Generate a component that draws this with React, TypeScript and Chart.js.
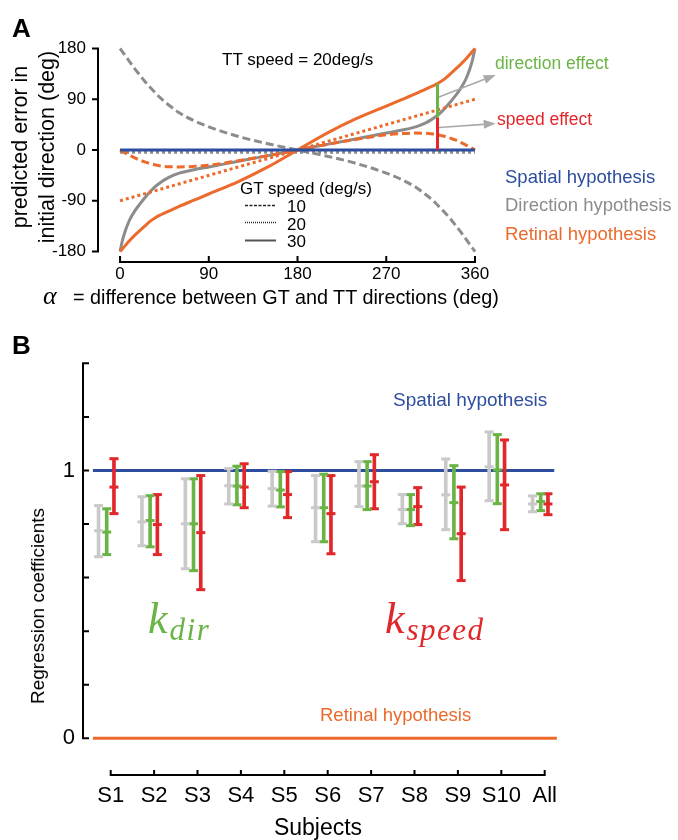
import React, { useEffect, useRef } from "react";
import { Chart, registerables } from "chart.js";

Chart.register(...registerables);

const SANS = "'Liberation Sans', Arial, Helvetica, sans-serif";
const SERIF = "'Liberation Serif', 'Times New Roman', serif";
Chart.defaults.font.family = SANS;

// ===== Panel A data (predicted error, deg) =====
const alphaDeg = [0, 2.5, 5, 7.5, 10, 15, 20, 25, 30, 35, 40, 45, 50, 60, 75, 90, 120, 150, 180, 210, 240, 270, 285, 300, 310, 315, 320, 325, 330, 335, 340, 345, 350, 352.5, 355, 357.5, 360];
const directionGT10 = [180, 174, 168, 162, 156, 144, 133, 122, 112, 103, 94, 86, 79, 66, 52, 41, 24, 11, 0, -11, -24, -41, -52, -66, -79, -86, -94, -103, -112, -122, -133, -144, -156, -162, -168, -174, -180];
const directionGT30 = [-180, -160, -145, -133, -123, -108, -96, -85, -75, -66, -59, -53, -48, -41, -35, -30, -20, -10, 0, 10, 20, 30, 35, 41, 48, 53, 59, 66, 75, 85, 96, 108, 123, 133, 145, 160, 180];
const retinalGT10 = [0, -2.5, -5, -7.3, -9.5, -14, -18, -21, -24, -26, -28, -29, -29.6, -30, -29, -27, -19, -10, 0, 10, 19, 27, 29, 30, 29.6, 29, 28, 26, 24, 21, 18, 14, 9.5, 7.3, 5, 2.5, 0];
const retinalGT30 = [-180, -175, -170, -165, -160, -151, -143, -135, -127, -121, -116, -112, -108, -100, -89, -78, -56, -30, 0, 30, 56, 78, 89, 100, 108, 112, 116, 121, 127, 135, 143, 151, 160, 165, 170, 175, 180];
const lineEndsDeg = [0, 360];
const retinalGT20 = [-90, 90];
const directionGT20 = [-4, -4];
const spatialAll = [0, 0];
const effectAlpha = [322, 322];
const speedEffect = [0, 57];
const directionEffect = [57, 118];
const xTicksA = [0, 90, 180, 270, 360];
const yTicksA = [-180, -90, 0, 90, 180];

// ===== Panel B data (regression coefficients) =====
const subjects = ["S1", "S2", "S3", "S4", "S5", "S6", "S7", "S8", "S9", "S10", "All"];
const grayLow = [0.678, 0.719, 0.633, 0.875, 0.867, 0.734, 0.865, 0.801, 0.779, 0.887, 0.846];
const grayMid = [0.775, 0.808, 0.801, 0.943, 0.932, 0.861, 0.942, 0.854, 0.909, 1.014, 0.875];
const grayHigh = [0.869, 0.902, 0.969, 1.007, 0.997, 0.981, 1.033, 0.910, 1.043, 1.144, 0.905];
const dirLow = [0.686, 0.715, 0.626, 0.872, 0.864, 0.734, 0.854, 0.794, 0.745, 0.876, 0.850];
const dirMid = [0.770, 0.813, 0.801, 0.942, 0.927, 0.861, 0.942, 0.854, 0.880, 1.002, 0.884];
const dirHigh = [0.857, 0.906, 0.969, 1.016, 0.996, 0.986, 1.033, 0.910, 1.018, 1.134, 0.913];
const speedLow = [0.839, 0.686, 0.555, 0.861, 0.824, 0.689, 0.857, 0.798, 0.589, 0.779, 0.835];
const speedMid = [0.938, 0.798, 0.768, 0.938, 0.910, 0.839, 0.958, 0.865, 0.764, 0.946, 0.875];
const speedHigh = [1.044, 0.910, 0.981, 1.025, 0.996, 0.981, 1.059, 0.936, 0.938, 1.114, 0.913];
const yTicksB = [0, 0.2, 0.4, 0.6, 0.8, 1, 1.2, 1.4];
const yLabelsB = ["0", "", "", "", "", "1", "", ""];
const spatialLevel = 1;
const retinalLevel = 0;

// ===== styles =====
const BLUE = "#2d4e9e";
const GRAY = "#8c8c8c";
const ORANGE = "#ec6a2c";
const GREEN = "#6ab446";
const RED = "#e2272b";
const LIGHT = "#c9c9c9";

const xB = subjects.map((_, i) => i + 1);
const OFF = { gray: -0.28, dir: -0.092, speed: 0.075 };

const pts = (xs: number[], ys: number[]) => xs.map((x, i) => ({ x, y: ys[i] }));

function drawArrow(ctx: CanvasRenderingContext2D, x1: number, y1: number, x2: number, y2: number) {
  const head = 12, half = 4.5;
  const a = Math.atan2(y2 - y1, x2 - x1);
  const bx = x2 - head * Math.cos(a), by = y2 - head * Math.sin(a);
  ctx.beginPath();
  ctx.moveTo(x1, y1);
  ctx.lineTo(bx, by);
  ctx.stroke();
  ctx.beginPath();
  ctx.moveTo(x2, y2);
  ctx.lineTo(bx + half * Math.sin(a), by - half * Math.cos(a));
  ctx.lineTo(bx - half * Math.sin(a), by + half * Math.cos(a));
  ctx.closePath();
  ctx.fill();
}

const spinePlugin = {
  id: "spines",
  afterDraw(chart: any, _args: any, opts: any) {
    const { ctx, chartArea, scales } = chart;
    const lw = 2;
    ctx.save();
    ctx.strokeStyle = "#000";
    ctx.lineWidth = lw;
    ctx.lineCap = "butt";
    ctx.setLineDash([]);
    const xs = scales.x, ys = scales.y;
    if (opts.x) {
      const yb = chartArea.bottom;
      const a = xs.getPixelForValue(opts.x.from), b = xs.getPixelForValue(opts.x.to);
      ctx.beginPath();
      ctx.moveTo(a - lw / 2, yb);
      ctx.lineTo(b + lw / 2, yb);
      for (const v of opts.x.ticks) {
        const p = xs.getPixelForValue(v);
        ctx.moveTo(p, yb);
        ctx.lineTo(p, yb + opts.x.len);
      }
      ctx.stroke();
    }
    if (opts.y) {
      const xl = chartArea.left;
      const a = ys.getPixelForValue(opts.y.from), b = ys.getPixelForValue(opts.y.to);
      ctx.beginPath();
      ctx.moveTo(xl, a + lw / 2);
      ctx.lineTo(xl, b - lw / 2);
      for (const v of opts.y.ticks) {
        const p = ys.getPixelForValue(v);
        ctx.moveTo(xl, p);
        ctx.lineTo(xl + opts.y.len, p);
      }
      ctx.stroke();
    }
    ctx.restore();
  },
};

const annotAPlugin = {
  id: "annotA",
  afterDatasetsDraw(chart: any, _args: any, opts: any) {
    const { ctx, scales } = chart;
    const x = scales.x, y = scales.y;
    ctx.save();
    ctx.strokeStyle = "#a9a9a9";
    ctx.fillStyle = "#a9a9a9";
    ctx.lineWidth = 1.6;
    for (const ar of opts.arrows) {
      drawArrow(ctx, x.getPixelForValue(ar[0]), y.getPixelForValue(ar[1]), x.getPixelForValue(ar[2]), y.getPixelForValue(ar[3]));
    }
    const lx0 = x.getPixelForValue(opts.legend.from), lx1 = x.getPixelForValue(opts.legend.to);
    for (const r of opts.legend.rows) {
      const py = Math.round(y.getPixelForValue(r.at)) + 0.5;
      ctx.beginPath();
      ctx.setLineDash(r.dash);
      ctx.lineWidth = r.width;
      ctx.strokeStyle = r.color;
      ctx.moveTo(lx0, py);
      ctx.lineTo(lx1, py);
      ctx.stroke();
    }
    ctx.restore();
  },
};

function Txt(props: any) {
  const { x, base, size, color = "#000", weight = 400, family = SANS, italic = false, anchor = "start", children } = props;
  return (
    <div
      style={{
        position: "absolute",
        left: x,
        top: base - 0.8465 * size,
        fontSize: size,
        lineHeight: `${size}px`,
        fontFamily: family,
        fontWeight: weight,
        fontStyle: italic ? "italic" : "normal",
        color,
        whiteSpace: "nowrap",
        transform: anchor === "middle" ? "translateX(-50%)" : undefined,
      }}
    >
      {children}
    </div>
  );
}

function VTxt(props: any) {
  const { cx, cy, size, lh, children } = props;
  return (
    <div
      style={{
        position: "absolute",
        left: cx,
        top: cy,
        fontSize: size,
        lineHeight: `${lh}px`,
        fontFamily: SANS,
        color: "#000",
        whiteSpace: "nowrap",
        textAlign: "center",
        transform: "translate(-50%, -50%) rotate(-90deg)",
      }}
    >
      {children}
    </div>
  );
}

function MathK(props: any) {
  const { x, base, sub, color } = props;
  const size = 44;
  return (
    <div
      style={{
        position: "absolute",
        left: x,
        top: base - 0.84 * size,
        fontSize: size,
        lineHeight: `${size}px`,
        fontFamily: SERIF,
        fontStyle: "italic",
        color,
        whiteSpace: "nowrap",
      }}
    >
      k
      <span style={{ fontSize: 31, position: "relative", top: 7, marginLeft: 2, letterSpacing: 1.5 }}>{sub}</span>
    </div>
  );
}

export default function App() {
  const refA = useRef<HTMLCanvasElement>(null);
  const refB = useRef<HTMLCanvasElement>(null);

  useEffect(() => {
    const tickFontA = { size: 17, family: SANS };
    const line = (data: any, color: string, order: number, extra: any = {}) => ({
      type: "line",
      data,
      borderColor: color,
      borderWidth: 3,
      pointRadius: 0,
      fill: false,
      order,
      cubicInterpolationMode: "monotone",
      borderCapStyle: "butt",
      ...extra,
    });
    const straight = { cubicInterpolationMode: "default", tension: 0 };
    const chartA = new Chart(refA.current as HTMLCanvasElement, {
      type: "line",
      data: {
        datasets: [
          line(pts(effectAlpha, speedEffect), RED, 0, straight),
          line(pts(effectAlpha, directionEffect), GREEN, 0, straight),
          line(pts(lineEndsDeg, spatialAll), BLUE, 1, straight),
          line(pts(alphaDeg, retinalGT30), ORANGE, 2),
          line(pts(lineEndsDeg, retinalGT20), ORANGE, 3, { borderDash: [3, 3], ...straight }),
          line(pts(alphaDeg, retinalGT10), ORANGE, 4, { borderDash: [8, 4] }),
          line(pts(alphaDeg, directionGT30), GRAY, 5),
          line(pts(lineEndsDeg, directionGT20), GRAY, 6, { borderDash: [3, 3], ...straight }),
          line(pts(alphaDeg, directionGT10), GRAY, 7, { borderDash: [8, 4] }),
        ] as any,
      },
      options: {
        animation: false,
        responsive: false,
        events: [],
        layout: { padding: { left: 38, right: 678 - 485, top: 45.7, bottom: 24 } },
        plugins: {
          legend: { display: false },
          tooltip: { enabled: false },
          spines: {
            x: { from: 0, to: 360, ticks: xTicksA, len: -6 },
            y: { from: -180, to: 180, ticks: yTicksA, len: -6 },
          },
          annotA: {
            arrows: [
              [323.5, 94, 381, 133],
              [323.5, 40, 381, 47],
            ],
            legend: {
              from: 126.7,
              to: 158.2,
              rows: [
                { at: -97.5, dash: [3, 1.5], width: 1.3, color: "#222" },
                { at: -127.7, dash: [1, 1], width: 1.3, color: "#222" },
                { at: -159.6, dash: [], width: 2.2, color: "#555" },
              ],
            },
          },
        } as any,
        scales: {
          x: {
            type: "linear",
            min: -22.36,
            max: 370.16,
            grid: { display: false, drawTicks: false },
            border: { display: false },
            afterBuildTicks: (s: any) => {
              s.ticks = xTicksA.map((v) => ({ value: v }));
            },
            afterFit: (s: any) => {
              s.height = 34;
            },
            ticks: { font: tickFontA, color: "#000", padding: 2, autoSkip: false, maxRotation: 0, callback: (v: any) => String(v) },
          },
          y: {
            type: "linear",
            min: -198.6,
            max: 184.97,
            grid: { display: false, drawTicks: false },
            border: { display: false },
            afterBuildTicks: (s: any) => {
              s.ticks = yTicksA.map((v) => ({ value: v }));
            },
            afterFit: (s: any) => {
              s.width = 60;
            },
            ticks: { font: tickFontA, color: "#000", padding: 12, autoSkip: false, callback: (v: any) => String(v) },
          },
        },
      } as any,
      plugins: [spinePlugin, annotAPlugin] as any,
    });

    const bar = (low: number[], high: number[], off: number, color: string) => ({
      type: "bar",
      data: xB.map((x, i) => ({ x: x + off, y: [low[i], high[i]] })),
      backgroundColor: color,
      borderWidth: 0,
      barThickness: 3,
      grouped: false,
      order: 2,
    });
    const caps = (low: number[], mid: number[], high: number[], off: number, color: string) => ({
      type: "scatter",
      data: xB.flatMap((x, i) => [
        { x: x + off, y: low[i] },
        { x: x + off, y: mid[i] },
        { x: x + off, y: high[i] },
      ]),
      pointStyle: "line",
      pointRadius: 4.5,
      pointHoverRadius: 4.5,
      pointBorderWidth: 3,
      borderColor: color,
      backgroundColor: color,
      showLine: false,
      order: 1,
    });
    const refLine = (level: number, x0: number, x1: number, color: string) => ({
      type: "line",
      data: [
        { x: x0, y: level },
        { x: x1, y: level },
      ],
      borderColor: color,
      borderWidth: 3,
      pointRadius: 0,
      tension: 0,
      order: 5,
      borderCapStyle: "butt",
    });

    const chartB = new Chart(refB.current as HTMLCanvasElement, {
      type: "scatter",
      data: {
        datasets: [
          refLine(spatialLevel, 0.59, 11.22, BLUE),
          refLine(retinalLevel, 0.59, 11.28, ORANGE),
          bar(grayLow, grayHigh, OFF.gray, LIGHT),
          bar(dirLow, dirHigh, OFF.dir, GREEN),
          bar(speedLow, speedHigh, OFF.speed, RED),
          caps(grayLow, grayMid, grayHigh, OFF.gray, LIGHT),
          caps(dirLow, dirMid, dirHigh, OFF.dir, GREEN),
          caps(speedLow, speedMid, speedHigh, OFF.speed, RED),
        ] as any,
      },
      options: {
        animation: false,
        responsive: false,
        events: [],
        layout: { padding: { left: 23, right: 678 - 560, top: 38, bottom: 25 } },
        plugins: {
          legend: { display: false },
          tooltip: { enabled: false },
          spines: {
            x: { from: 1, to: 11, ticks: xB, len: -5 },
            y: { from: 0, to: 1.4, ticks: yTicksB, len: 6 },
          },
        } as any,
        scales: {
          x: {
            type: "linear",
            min: 0.3618,
            max: 11.3525,
            offset: false,
            grid: { display: false, offset: false, drawTicks: false },
            border: { display: false },
            afterBuildTicks: (s: any) => {
              s.ticks = xB.map((v) => ({ value: v }));
            },
            afterFit: (s: any) => {
              s.height = 40;
            },
            ticks: {
              font: { size: 22, family: SANS },
              color: "#000",
              padding: 8,
              autoSkip: false,
              maxRotation: 0,
              callback: (v: any) => subjects[Math.round(v) - 1] ?? "",
            },
          },
          y: {
            type: "linear",
            min: -0.137,
            max: 1.42,
            grid: { display: false, drawTicks: false },
            border: { display: false },
            afterBuildTicks: (s: any) => {
              s.ticks = yTicksB.map((v) => ({ value: v }));
            },
            afterFit: (s: any) => {
              s.width = 60;
            },
            ticks: {
              font: { size: 22, family: SANS },
              color: "#000",
              padding: 8,
              autoSkip: false,
              callback: (_v: any, i: number) => yLabelsB[i] ?? "",
            },
          },
        },
      } as any,
      plugins: [spinePlugin] as any,
    });

    return () => {
      chartA.destroy();
      chartB.destroy();
    };
  }, []);

  return (
    <div style={{ position: "absolute", left: 0, top: 0, width: 678, height: 840, background: "#fff", overflow: "hidden" }}>
      <canvas ref={refA} width={678} height={320} style={{ position: "absolute", left: 0, top: 0, width: 678, height: 320 }} />
      <canvas ref={refB} width={678} height={520} style={{ position: "absolute", left: 0, top: 320, width: 678, height: 520 }} />

      {/* Panel A text */}
      <Txt x={12} base={37} size={26} weight={700}>A</Txt>
      <Txt x={222} base={65} size={17}>TT speed = 20deg/s</Txt>
      <Txt x={240} base={194} size={17}>GT speed (deg/s)</Txt>
      <Txt x={287} base={212} size={17}>10</Txt>
      <Txt x={287} base={230} size={17}>20</Txt>
      <Txt x={287} base={247} size={17}>30</Txt>
      <Txt x={495} base={70} size={17.5} color={GREEN}>direction effect</Txt>
      <Txt x={497} base={126} size={17.5} color={RED}>speed effect</Txt>
      <Txt x={505} base={184} size={18.5} color={BLUE}>Spatial hypothesis</Txt>
      <Txt x={505} base={212} size={18.5} color={GRAY}>Direction hypothesis</Txt>
      <Txt x={505} base={241} size={18.5} color={ORANGE}>Retinal hypothesis</Txt>
      <VTxt cx={34} cy={147} size={21.5} lh={27}>
        predicted error in
        <br />
        initial direction (deg)
      </VTxt>
      <Txt x={43} base={305} size={26} family={SERIF} italic>α</Txt>
      <Txt x={73} base={305} size={19.8}>= difference between GT and TT directions (deg)</Txt>

      {/* Panel B text */}
      <Txt x={12} base={354} size={26} weight={700}>B</Txt>
      <Txt x={393} base={406} size={19} color={BLUE}>Spatial hypothesis</Txt>
      <Txt x={320} base={722} size={18.5} color={ORANGE}>Retinal hypothesis</Txt>
      <MathK x={148} base={634} sub="dir" color={GREEN} />
      <MathK x={385} base={634} sub="speed" color={RED} />
      <VTxt cx={38} cy={606} size={19} lh={22}>Regression coefficients</VTxt>
      <Txt x={318} base={835} size={23} anchor="middle">Subjects</Txt>
    </div>
  );
}
